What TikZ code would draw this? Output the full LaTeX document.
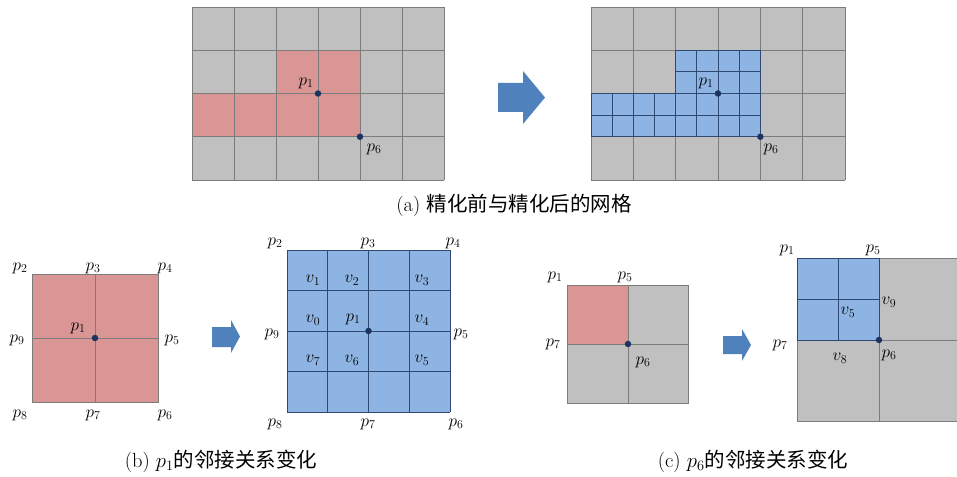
\documentclass[tikz,border=0pt]{standalone}
\usepackage{fontspec}
\newfontfamily\cjk{Noto Sans CJK SC}
\usepackage{tikz}
\usetikzlibrary{arrows.meta}
\usepackage{xcolor}
\definecolor{cellgrey}{HTML}{C0C0C0}
\definecolor{gridgrey}{HTML}{7C7C7C}
\definecolor{cellpink}{HTML}{D99694}
\definecolor{cellblue}{HTML}{8DB4E2}
\definecolor{bluegrid}{HTML}{2E4A72}
\definecolor{dotblue}{HTML}{1C3560}
\definecolor{arrowblue}{HTML}{4F81BD}

\begin{document}
\begin{tikzpicture}[x=1pt, y=-1pt, >=Latex,
    lbl/.style={inner sep=0pt, font=\fontsize{18}{20}\selectfont},
    captxt/.style={inner sep=0pt, font=\fontsize{20.5}{22}\selectfont},
    gline/.style={draw=gridgrey, line width=0.8pt},
    bline/.style={draw=bluegrid, line width=0.8pt},
    dot/.style={circle, fill=dotblue, inner sep=0pt, minimum size=6.5pt}]
  \useasboundingbox (0,0) rectangle (957,476);

  % (a) grid before refinement
  \fill[cellgrey] (192,7) rectangle (444,180);
  \fill[cellpink] (276,50.25) rectangle (360,93.5);
  \fill[cellpink] (192,93.5) rectangle (360,136.75);
  \foreach \i in {0,...,6} {
    \draw[gline] (192+42*\i,7) -- (192+42*\i,180);
  }
  \foreach \j in {0,...,4} {
    \draw[gline] (192,7+43.25*\j) -- (444,7+43.25*\j);
  }
  \node[dot] (ap1) at (318,93.5) {};
  \node[dot] (ap6) at (360,136.75) {};
  \node[lbl] (la1) at (306,83) {$p_1$};
  \node[lbl] (la6) at (374,149) {$p_6$};

  \fill[arrowblue] (498,83) -- (523,83) -- (523,71) -- (545,97.5)
    -- (523,124) -- (523,112) -- (498,112) -- cycle;

  % (a) grid after refinement
  \fill[cellgrey] (591,7) rectangle (845,180);
  \foreach \i in {0,...,6} {
    \draw[gline] (591+42.333*\i,7) -- (591+42.333*\i,180);
  }
  \foreach \j in {0,...,4} {
    \draw[gline] (591,7+43.25*\j) -- (845,7+43.25*\j);
  }
  \fill[cellblue] (675.67,50.25) rectangle (760.33,93.5);
  \fill[cellblue] (591,93.5) rectangle (760.33,136.75);
  \begin{scope}
    \clip (675.67,50.25) rectangle (760.33,93.5) (591,93.5) rectangle (760.33,136.75);
    \foreach \k in {0,...,8} {
      \draw[bline] (591+21.1667*\k,45) -- (591+21.1667*\k,140);
    }
    \foreach \k in {0,...,4} {
      \draw[bline] (585,50.25+21.625*\k) -- (765,50.25+21.625*\k);
    }
  \end{scope}
  \draw[bline] (591,93.5) -- (675.67,93.5) -- (675.67,50.25) -- (760.33,50.25)
    -- (760.33,136.75) -- (591,136.75) -- cycle;
  \node[dot] (bp1) at (718,93.5) {};
  \node[dot] (bp6) at (760.33,136.75) {};
  \node[lbl] (lb1) at (706,83) {$p_1$};
  \node[lbl] (lb6) at (771,149) {$p_6$};

  \node[captxt] (capa) at (514,205) {(a)\ {\cjk 精化前与精化后的网格}};

  % (b) neighbours of p1
  \fill[cellpink] (32,274) rectangle (158,402);
  \draw[gline] (32,274) rectangle (158,402);
  \draw[gline] (95,274) -- (95,402);
  \draw[gline] (32,338) -- (158,338);
  \node[dot] (cp1) at (95,338) {};
  \node[lbl] (lc2) at (20,268) {$p_2$};
  \node[lbl] (lc3) at (93,268) {$p_3$};
  \node[lbl] (lc4) at (165,268) {$p_4$};
  \node[lbl] (lc1) at (78,328) {$p_1$};
  \node[lbl] (lc9) at (17,340) {$p_9$};
  \node[lbl] (lc5) at (172,340) {$p_5$};
  \node[lbl] (lc8) at (20,415) {$p_8$};
  \node[lbl] (lc7) at (93,415) {$p_7$};
  \node[lbl] (lc6) at (165,415) {$p_6$};

  \fill[arrowblue] (212,327) -- (231,327) -- (231,320) -- (240,336.5)
    -- (231,353) -- (231,347) -- (212,347) -- cycle;

  \fill[cellblue] (287,250) rectangle (450,412);
  \foreach \k in {0,...,4} {
    \draw[bline] (287+40.75*\k,250) -- (287+40.75*\k,412);
    \draw[bline] (287,250+40.5*\k) -- (450,250+40.5*\k);
  }
  \node[dot] (dp1) at (368.5,331) {};
  \node[lbl] (ld2) at (275,243) {$p_2$};
  \node[lbl] (ld3) at (368,243) {$p_3$};
  \node[lbl] (ld4) at (453,243) {$p_4$};
  \node[lbl] (ld9) at (272,334) {$p_9$};
  \node[lbl] (ld5) at (461,334) {$p_5$};
  \node[lbl] (ld8) at (275,424) {$p_8$};
  \node[lbl] (ld7) at (368,424) {$p_7$};
  \node[lbl] (ld6) at (456,424) {$p_6$};
  \node[lbl] (ld1) at (353,319) {$p_1$};
  \node[lbl] (v1) at (313,280) {$v_1$};
  \node[lbl] (v2) at (352,280) {$v_2$};
  \node[lbl] (v3) at (422,280) {$v_3$};
  \node[lbl] (v0) at (313,320) {$v_0$};
  \node[lbl] (v4) at (422,320) {$v_4$};
  \node[lbl] (v7) at (313,360) {$v_7$};
  \node[lbl] (v6) at (352,360) {$v_6$};
  \node[lbl] (v5) at (422,360) {$v_5$};

  \node[captxt] (capb) at (221,461) {(b)\ $p_1${\cjk 的邻接关系变化}};

  % (c) neighbours of p6
  \fill[cellgrey] (567,285) rectangle (688,403);
  \fill[cellpink] (567,285) rectangle (628,344);
  \draw[gline] (567,285) rectangle (688,403);
  \draw[gline] (628,285) -- (628,403);
  \draw[gline] (567,344) -- (688,344);
  \node[dot] (ep6) at (628,344) {};
  \node[lbl] (le1) at (555,277) {$p_1$};
  \node[lbl] (le5) at (625,277) {$p_5$};
  \node[lbl] (le7) at (553,344) {$p_7$};
  \node[lbl] (le6) at (643,362) {$p_6$};

  \fill[arrowblue] (723,336) -- (742,336) -- (742,329) -- (751,345)
    -- (742,361) -- (742,354) -- (723,354) -- cycle;

  \fill[cellgrey] (797,258) rectangle (957,421);
  \draw[gline] (957,258) -- (797,258) -- (797,421) -- (957,421);
  \draw[gline] (879,258) -- (879,421);
  \draw[gline] (797,340) -- (957,340);
  \fill[cellblue] (797,258) rectangle (879,340);
  \draw[bline] (838,258) -- (838,340);
  \draw[bline] (797,299) -- (879,299);
  \draw[bline] (797,258) rectangle (879,340);
  \node[dot] (fp6) at (879,340) {};
  \node[lbl] (lf1) at (787,250) {$p_1$};
  \node[lbl] (lf5) at (873,250) {$p_5$};
  \node[lbl] (lf7) at (780,345) {$p_7$};
  \node[lbl] (lf6) at (889,355) {$p_6$};
  \node[lbl] (v9) at (889,302) {$v_9$};
  \node[lbl] (v5c) at (848,312) {$v_5$};
  \node[lbl] (v8) at (840,358) {$v_8$};

  \node[captxt] (capc) at (753,461) {(c)\ $p_6${\cjk 的邻接关系变化}};
\end{tikzpicture}
\end{document}
